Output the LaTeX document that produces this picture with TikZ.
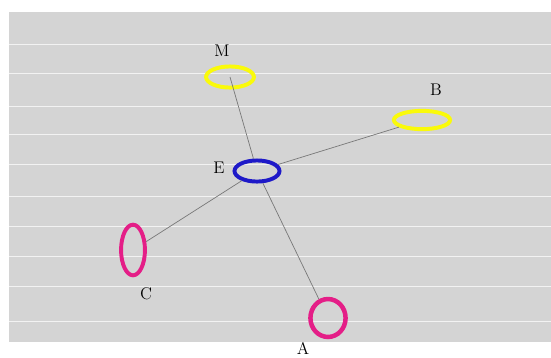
\documentclass[tikz,border=0pt]{standalone}
\usepackage{tikz}
\usetikzlibrary{shapes.geometric}

\definecolor{bggray}{RGB}{212,212,212}
\definecolor{ringyellow}{RGB}{250,250,10}
\definecolor{ringblue}{RGB}{30,25,200}
\definecolor{ringpink}{RGB}{228,30,135}
\definecolor{linkgray}{RGB}{120,120,120}

\begin{document}
\begin{tikzpicture}[x=0.025cm, y=-0.025cm, font=\large,
    ring/.style={ellipse, draw, line width=2.8pt, inner sep=0pt},
    lbl/.style={inner sep=0pt},
    link/.style={draw=linkgray, line width=0.5pt}]

  \useasboundingbox (0,0) rectangle (551,357);
  \fill[white] (0,0) rectangle (551,357);
  \fill[bggray] (9,12) rectangle (551,342);
  \foreach \y in {44,73,106,134,164,196,226,256,286,321}
    \draw[white, line width=0.6pt, opacity=0.7] (9,\y) -- (551,\y);

  \node[ring, draw=ringyellow, minimum width=34, minimum height=15] (M) at (230,77) {};
  \node[ring, draw=ringyellow, minimum width=40, minimum height=13] (B) at (422,120) {};
  \node[ring, draw=ringblue,   minimum width=32, minimum height=15] (E) at (257,171) {};
  \node[ring, draw=ringpink,   minimum width=17, minimum height=36] (C) at (133,250) {};
  \node[ring, draw=ringpink,   minimum width=25, minimum height=27, line width=3.2pt] (A) at (328,318) {};

  \node[lbl] (lM) at (222,51)  {M};
  \node[lbl] (lB) at (436,90)  {B};
  \node[lbl] (lE) at (219,168) {E};
  \node[lbl] (lC) at (146,294) {C};
  \node[lbl] (lA) at (303,348) {A};

  \path[link] (M.center) edge (E)
              (E) edge (B)
              (E) edge (C)
              (E) edge (A);
\end{tikzpicture}
\end{document}
